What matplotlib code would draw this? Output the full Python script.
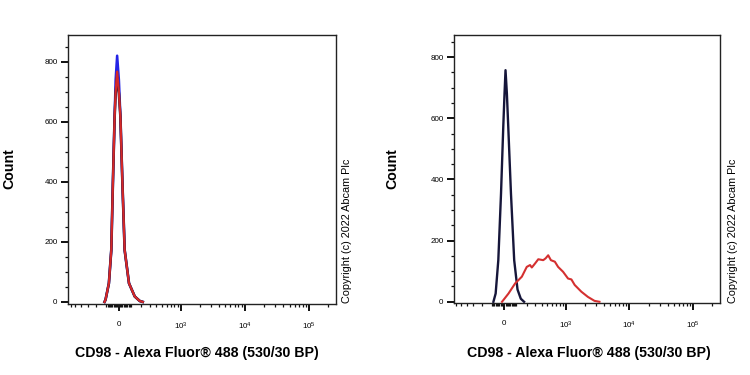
import numpy as np
import matplotlib
matplotlib.use("Agg")
import matplotlib.pyplot as plt
from matplotlib.ticker import FixedLocator, NullFormatter

plt.rcParams['font.family'] = ['Liberation Sans', 'DejaVu Sans']

# CD98 panel (left): unstained / isotype / antibody overlay
left_blue_x = [-117, -108, -79, -59, -46, -32, -24, -12, 2, 14, 30, 48, 84, 135, 184, 216]
left_blue_y = [0, 7, 62, 173, 396, 618, 740, 821, 740, 618, 396, 173, 62, 18, 3, 0]
left_black_x = [-117, -108, -79, -59, -46, -32, -24, -12, 2, 14, 30, 48, 84, 135, 184, 216]
left_black_y = [0, 7, 62, 173, 396, 618, 695, 750, 695, 618, 396, 173, 62, 18, 3, 0]
left_red_x = [-117, -108, -79, -59, -46, -32, -24, -12, 2, 14, 30, 48, 84, 135, 184, 216]
left_red_y = [0, 7, 62, 173, 396, 618, 700, 768, 700, 618, 396, 173, 62, 18, 3, 0]

# right panel: unstained (black) vs stained (red)
right_black_x = [-89, -70, -48, -26, -8, 2, 10, 21, 32, 54, 81, 110, 140, 172]
right_black_y = [0, 27, 136, 354, 572, 680, 757, 680, 572, 354, 136, 40, 10, 0]
right_red_x = [-18, 34, 89, 150, 200, 237, 258, 299, 345, 424, 467, 517, 574,
               668, 755, 909, 1091, 1235, 1392, 1772, 2247, 2855, 3415]
right_red_y = [0, 27, 60, 82, 114, 120, 112, 125, 139, 136, 142, 152, 136,
               131, 114, 98, 76, 73, 55, 33, 16, 3, 0]

major_ticks = [0, 1e3, 1e4, 1e5]
major_labels = ['0', r'$\mathregular{10^{3}}$', r'$\mathregular{10^{4}}$', r'$\mathregular{10^{5}}$']

X_MIN, X_MAX = -660, 262144
C = 222.0  # biexponential-like width


def fwd(x):
    return np.arcsinh(np.asarray(x) / C) / np.log(10)


def inv(y):
    return C * np.sinh(np.asarray(y) * np.log(10))


def minor_positions():
    ticks = []
    for k in range(1, 10):
        ticks += [10 * k, -10 * k, 100 * k, -100 * k]
    for dec in [1e3, 1e4, 1e5]:
        for k in range(2, 10):
            ticks.append(k * dec)
    return sorted(t for t in ticks if X_MIN < t < X_MAX)


def style_axis(ax, ytop, ybot):
    ax.set_xscale('function', functions=(fwd, inv))
    ax.set_xlim(X_MIN, X_MAX)
    ax.set_ylim(ybot, ytop)
    ax.xaxis.set_major_locator(FixedLocator(major_ticks))
    ax.set_xticklabels(major_labels)
    ax.xaxis.set_minor_locator(FixedLocator(minor_positions()))
    ax.xaxis.set_minor_formatter(NullFormatter())
    ax.yaxis.set_major_locator(FixedLocator([0, 200, 400, 600, 800]))
    ax.yaxis.set_minor_locator(FixedLocator([50, 100, 150, 250, 300, 350, 450, 500, 550,
                                             650, 700, 750, 850]))
    ax.tick_params(which='major', direction='out', length=5, width=1.4,
                   labelsize=5.8, color='#111111')
    ax.tick_params(axis='x', which='major', pad=7)
    ax.tick_params(axis='y', which='major', pad=2.5)
    ax.tick_params(which='minor', direction='out', length=2.5, width=0.9, color='#111111')
    for sp in ax.spines.values():
        sp.set_linewidth(1.0)
        sp.set_color('#222222')


fig = plt.figure(figsize=(7.5, 3.75), dpi=100)
ax1 = fig.add_axes([68 / 750, 1 - 304 / 375, 268 / 750, 269 / 375])
ax2 = fig.add_axes([454 / 750, 1 - 303 / 375, 266 / 750, 268 / 375])

ax1.plot(left_blue_x, left_blue_y, color='#2323e6', lw=1.8, zorder=2)
ax1.plot(left_black_x, left_black_y, color='#1a1a3a', lw=1.9, zorder=3)
ax1.plot(left_red_x, left_red_y, color='#d42828', lw=1.6, zorder=4)
style_axis(ax1, 890, -7)

ax2.plot(right_black_x, right_black_y, color='#16163a', lw=1.7, zorder=3)
ax2.plot(right_red_x, right_red_y, color='#d43030', lw=1.5, zorder=4)
style_axis(ax2, 872, -4)

xlabel = 'CD98 - Alexa Fluor® 488 (530/30 BP)'
for xc, xcount, xcopy in [(197, 9, 347), (589, 392, 733)]:
    fig.text(xc / 750, 1 - 353 / 375, xlabel, ha='center', va='center',
             fontsize=10.2, fontweight='bold')
    fig.text(xcount / 750, 1 - 169 / 375, 'Count', ha='center', va='center',
             rotation=90, fontsize=10.2, fontweight='bold')
    fig.text(xcopy / 750, 1 - 231 / 375, 'Copyright (c) 2022 Abcam Plc', ha='center',
             va='center', rotation=90, fontsize=7.8)

fig.savefig('out.png', dpi=100)
